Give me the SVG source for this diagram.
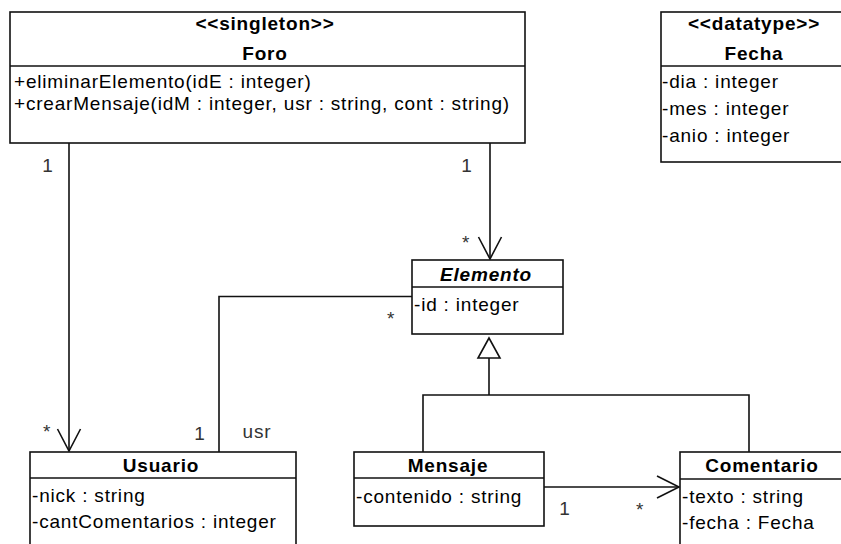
<svg xmlns="http://www.w3.org/2000/svg" width="841" height="544" viewBox="0 0 841 544">
<style>
.box{fill:#fff;stroke:#111;stroke-width:1.6}
.ln{fill:none;stroke:#111;stroke-width:1.6}
.tri{fill:#fff;stroke:#111;stroke-width:1.6}
text{font-family:"Liberation Sans",Arial,sans-serif;font-size:19px;letter-spacing:0.8px;fill:#000}
.n{font-weight:bold;text-anchor:middle}
.ab{font-style:italic}
.m{fill:#333;text-anchor:middle}
</style>
<rect width="841" height="544" fill="#fff"/>
<g id="connectors">
<line class="ln" x1="69" y1="143" x2="69" y2="451"/>
<polyline class="ln" points="57.5,429 69,451 80.5,429"/>
<line class="ln" x1="490" y1="143" x2="490" y2="259"/>
<polyline class="ln" points="478.5,237 490,259 501.5,237"/>
<polyline class="ln" points="219,452 219,296.5 412,296.5"/>
<line class="ln" x1="489" y1="358" x2="489" y2="395"/>
<polyline class="ln" points="423,452 423,395 749,395 749,452"/>
<polygon class="tri" points="489,338 478,358 500,358"/>
<line class="ln" x1="544" y1="487" x2="679" y2="487"/>
<polyline class="ln" points="657,476 679,487 657,498"/>
<text class="m" x="48" y="172">1</text>
<text class="m" x="467" y="172">1</text>
<text class="m" x="466" y="249">*</text>
<text class="m" x="391" y="325">*</text>
<text class="m" x="47" y="438">*</text>
<text class="m" x="200" y="440">1</text>
<text class="m" x="257" y="438">usr</text>
<text class="m" x="565" y="515">1</text>
<text class="m" x="640" y="516">*</text>
</g>
<g id="Foro">
<rect class="box" x="10" y="12" width="515" height="131"/>
<line class="ln" x1="10" y1="66" x2="525" y2="66"/>
<text class="n" x="265" y="30">&lt;&lt;singleton&gt;&gt;</text>
<text class="n" x="265" y="60">Foro</text>
<text x="14" y="88">+eliminarElemento(idE : integer)</text>
<text x="14" y="110">+crearMensaje(idM : integer, usr : string, cont : string)</text>
</g>
<g id="Fecha">
<rect class="box" x="661" y="12" width="190" height="150"/>
<line class="ln" x1="661" y1="66" x2="851" y2="66"/>
<text class="n" x="754" y="30">&lt;&lt;datatype&gt;&gt;</text>
<text class="n" x="754" y="60">Fecha</text>
<text x="662" y="88">-dia : integer</text>
<text x="662" y="115">-mes : integer</text>
<text x="662" y="142">-anio : integer</text>
</g>
<g id="Elemento">
<rect class="box" x="412" y="260" width="151" height="74"/>
<line class="ln" x1="412" y1="287" x2="563" y2="287"/>
<text class="n ab" x="486" y="281">Elemento</text>
<text x="414" y="311">-id : integer</text>
</g>
<g id="Usuario">
<rect class="box" x="30" y="452" width="266" height="100"/>
<line class="ln" x1="30" y1="478" x2="296" y2="478"/>
<text class="n" x="161" y="472">Usuario</text>
<text x="32" y="502">-nick : string</text>
<text x="32" y="528">-cantComentarios : integer</text>
</g>
<g id="Mensaje">
<rect class="box" x="354" y="452" width="190" height="74"/>
<line class="ln" x1="354" y1="478" x2="544" y2="478"/>
<text class="n" x="448" y="472">Mensaje</text>
<text x="356" y="503">-contenido : string</text>
</g>
<g id="Comentario">
<rect class="box" x="680" y="452" width="170" height="100"/>
<line class="ln" x1="680" y1="479" x2="850" y2="479"/>
<text class="n" x="762" y="472">Comentario</text>
<text x="682" y="503">-texto : string</text>
<text x="682" y="529">-fecha : Fecha</text>
</g>
</svg>
